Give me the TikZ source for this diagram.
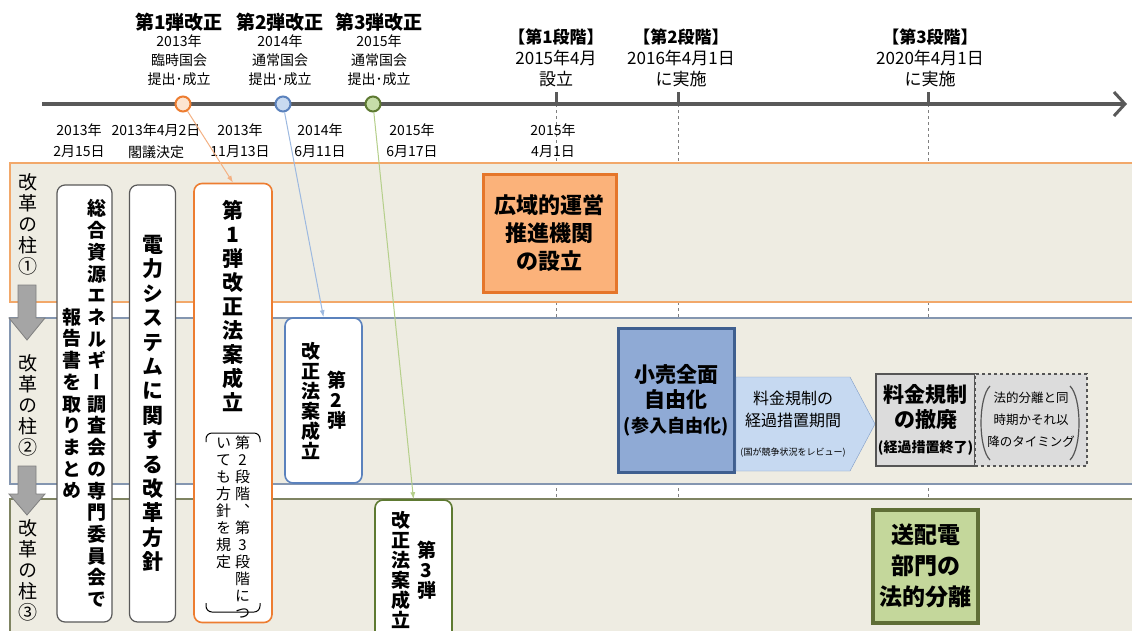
\documentclass[tikz,border=0pt]{standalone}
\usepackage{fontspec}
\setmainfont{Noto Sans CJK JP}
\newfontfamily\tatefont[RawFeature=+vert]{Noto Sans CJK JP}
\usetikzlibrary{arrows.meta}

\definecolor{bandfill}{HTML}{EEECE2}
\definecolor{bandone}{HTML}{F2A86A}
\definecolor{bandtwo}{HTML}{8496B0}
\definecolor{bandthree}{HTML}{7F8462}
\definecolor{axisgray}{HTML}{595959}
\definecolor{arrowgray}{HTML}{A5A5A5}
\definecolor{pillarline}{HTML}{595959}
\definecolor{firstline}{HTML}{ED7D31}
\definecolor{firstfill}{HTML}{FCE4D0}
\definecolor{firstlight}{HTML}{F4B183}
\definecolor{secondline}{HTML}{5B82BD}
\definecolor{secondfill}{HTML}{C9DAF0}
\definecolor{secondlight}{HTML}{9DB9E0}
\definecolor{thirdline}{HTML}{5E7A32}
\definecolor{thirdfill}{HTML}{C6DDA8}
\definecolor{thirdlight}{HTML}{B5CF8A}
\definecolor{organfill}{HTML}{FBB27A}
\definecolor{organline}{HTML}{E5762A}
\definecolor{retailfill}{HTML}{8FAAD5}
\definecolor{retailline}{HTML}{3F5F8F}
\definecolor{chevfill}{HTML}{C6D9F1}
\definecolor{chevline}{HTML}{7F9CC8}
\definecolor{boxfill}{HTML}{DCDCDC}
\definecolor{boxedge}{HTML}{555555}
\definecolor{gridfill}{HTML}{C4D79B}
\definecolor{gridline}{HTML}{5F6E36}

\newcommand\tatec[2]{$\vcenter{\baselineskip=#1\lineskiplimit=-30pt\lineskip=0pt\tateloop#2\relax}$}
\newcommand\tatet[2]{\vtop{\baselineskip=#1\lineskiplimit=-30pt\lineskip=0pt\tateloop#2\relax}}
\def\tateloop#1{\ifx\relax#1\else\hbox to 1em{\hss#1\hss}\expandafter\tateloop\fi}

\begin{document}
\begin{tikzpicture}[x=1pt,y=-1pt,node distance=19pt]
\tikzstyle{hd}=[font=\fontsize{19}{19}\selectfont\bfseries,inner sep=0]
\tikzstyle{sm}=[font=\fontsize{14}{14}\selectfont,inner sep=0]
\tikzstyle{stage}=[font=\fontsize{17}{17}\selectfont\bfseries,inner sep=0]
\tikzstyle{stagesm}=[font=\fontsize{17}{17}\selectfont,inner sep=0,node distance=21pt]
\tikzstyle{band}=[fill=bandfill,line width=1.2]
\tikzstyle{dot}=[draw,circle,line width=2,minimum size=15,inner sep=0]
\tikzstyle{pillar}=[draw=pillarline,fill=white,rounded corners=8,line width=1.2,inner sep=0,font=\fontsize{19}{19}\tatefont\bfseries]
\tikzstyle{tag}=[align=center,inner sep=0,font=\bfseries]
\tikzstyle{link}=[line width=1,-{Latex[length=7pt,width=5pt]}]
\tikzstyle{down}=[fill=arrowgray,draw=gray,line width=0.8]

\useasboundingbox (0,0) rectangle (1132,630);
\clip (0,0) rectangle (1132,630);
\fill[white] (0,0) rectangle (1132,630);

\foreach \x in {556,678,928}
  \draw[dashed,gray] (\x,104) -- (\x,630);

\draw[band,draw=bandone] (10,163) rectangle (1145,302);
\draw[band,draw=bandtwo] (10,318) rectangle (1145,484);
\draw[band,draw=bandthree] (10,499) rectangle (1145,645);

\draw[down] (18,285) -- (36,285) -- (36,318) -- (45,318) -- (27,340) -- (9,318) -- (18,318) -- cycle;
\draw[down] (18,466) -- (36,466) -- (36,494) -- (45,494) -- (27,515) -- (9,494) -- (18,494) -- cycle;

\node[inner sep=0,font=\fontsize{19}{19}\tatefont] (p1) at (28,224) {\tatec{21pt}{改革の柱①}};
\node[inner sep=0,font=\fontsize{19}{19}\tatefont] (p2) at (28,405) {\tatec{21pt}{改革の柱②}};
\node[inner sep=0,font=\fontsize{19}{19}\tatefont] (p3) at (28,570) {\tatec{21pt}{改革の柱③}};

\coordinate (ts) at (42,104);
\coordinate (te) at (1127,104);
\draw[axisgray,line width=4,-{Straight Barb[length=11pt,width=24pt,line width=3pt]}] (ts) -- (te);
\foreach \x in {556,678,928}
  \fill[axisgray] ({\x-1.5},92) rectangle ({\x+1.5},104);

\node[dot,draw=firstline,fill=firstfill] (c1) at (183,104) {};
\node[dot,draw=secondline,fill=secondfill] (c2) at (283,104) {};
\node[dot,draw=thirdline,fill=thirdfill] (c3) at (373,104) {};

\node[hd] (g1) at (179,22) {第1弾改正};
\node[sm,below of=g1] (g1a) {2013年};
\node[sm,below of=g1a] (g1b) {臨時国会};
\node[sm,below of=g1b] (g1c) {提出･成立};
\node[hd] (g2) at (280,22) {第2弾改正};
\node[sm,below of=g2] (g2a) {2014年};
\node[sm,below of=g2a] (g2b) {通常国会};
\node[sm,below of=g2b] (g2c) {提出･成立};
\node[hd] (g3) at (379,22) {第3弾改正};
\node[sm,below of=g3] (g3a) {2015年};
\node[sm,below of=g3a] (g3b) {通常国会};
\node[sm,below of=g3b] (g3c) {提出･成立};

\node[stage] (s1) at (556,37) {【第1段階】};
\node[stagesm,below of=s1] (s1a) {2015年4月};
\node[stagesm,below of=s1a] (s1b) {設立};
\node[stage] (s2) at (681,37) {【第2段階】};
\node[stagesm,below of=s2] (s2a) {2016年4月1日};
\node[stagesm,below of=s2a] (s2b) {に実施};
\node[stage] (s3) at (930,37) {【第3段階】};
\node[stagesm,below of=s3] (s3a) {2020年4月1日};
\node[stagesm,below of=s3a] (s3b) {に実施};

\node[sm] (d1) at (79,130) {2013年};
\node[sm,node distance=22pt,below of=d1] (d1a) {2月15日};
\node[sm] (d2) at (156,130) {2013年4月2日};
\node[sm,node distance=22pt,below of=d2] (d2a) {閣議決定};
\node[sm] (d3) at (240,130) {2013年};
\node[sm,node distance=22pt,below of=d3] (d3a) {11月13日};
\node[sm] (d4) at (320,130) {2014年};
\node[sm,node distance=22pt,below of=d4] (d4a) {6月11日};
\node[sm] (d5) at (412,130) {2015年};
\node[sm,node distance=22pt,below of=d5] (d5a) {6月17日};
\node[sm] (d6) at (553,130) {2015年};
\node[sm,node distance=22pt,below of=d6] (d6a) {4月1日};

\node[pillar,minimum width=55,minimum height=437] (A) at (84.5,403.5)
  {\tatec{21.7pt}{報告書を取りまとめ}\hspace{6pt}\tatec{21.7pt}{総合資源エネルギー調査会の専門委員会で}};
\node[pillar,minimum width=46,minimum height=437,font=\fontsize{21}{21}\tatefont\bfseries] (B) at (152.5,403.5)
  {\tatec{24.4pt}{電力システムに関する改革方針}};
\node[pillar,draw=firstline,line width=1.6,minimum width=78,minimum height=439] (C) at (233,403) {};
\node[inner sep=0,font=\fontsize{21}{21}\tatefont\bfseries] (C1) at (233,306) {\tatec{24pt}{第1弾改正法案成立}};
\node[inner sep=0,font=\fontsize{15}{15}\tatefont] (C2) at (233,527)
  {\tatet{17pt}{いても方針を規定}\hspace{4pt}\tatet{17pt}{第2段階、第3段階につ}};
\draw[line width=1,rounded corners=6] (206,442) -- (206,433) -- (260,433) -- (260,442);
\draw[line width=1,rounded corners=6] (206,603) -- (206,612) -- (260,612) -- (260,603);

\node[pillar,draw=secondline,line width=1.6,minimum width=77,minimum height=165] (D) at (323.5,400.5)
  {\tatec{20pt}{改正法案成立}\hspace{7pt}\tatec{20pt}{第2弾}};
\node[pillar,draw=thirdline,line width=1.6,minimum width=77,minimum height=140] (E) at (413.5,570)
  {\tatec{20pt}{改正法案成立}\hspace{7pt}\tatec{20pt}{第3弾}};

\node[tag,draw=organline,fill=organfill,line width=3,minimum width=133,minimum height=118,font=\fontsize{22}{28}\selectfont\bfseries] (K) at (549.5,233)
  {広域的運営\\推進機関\\の設立};
\node[tag,draw=retailline,fill=retailfill,line width=3,minimum width=116,minimum height=144,font=\fontsize{21}{25}\selectfont\bfseries] (Q) at (676,400)
  {小売全面\\自由化\\{\fontsize{18}{18}\selectfont(参入自由化)}};

\draw[fill=chevfill,draw=chevline] (736,377) -- (850,377) -- (875,424) -- (850,471) -- (736,471) -- cycle;
\node[align=center,inner sep=0,font=\fontsize{16}{22}\selectfont] (P) at (793,409) {料金規制の\\経過措置期間};
\node[inner sep=0,font=\fontsize{9}{9}\selectfont] (P1) at (793,453) {(国が競争状況をレビュー)};

\node[tag,draw=boxedge,fill=boxfill,line width=2,minimum width=99,minimum height=92,font=\fontsize{21}{25}\selectfont\bfseries] (R) at (925.5,420)
  {料金規制\\の撤廃\\{\fontsize{14}{14}\selectfont(経過措置終了)}};
\node[align=center,inner sep=0,draw=boxedge,dashed,fill=boxfill,line width=2,minimum width=112,minimum height=92,font=\fontsize{12.5}{22}\selectfont] (S) at (1031,420)
  {法的分離と同\\時期かそれ以\\降のタイミング};
\draw[boxedge,line width=1.2] (990,386) .. controls (978,398) and (978,448) .. (990,460);
\draw[boxedge,line width=1.2] (1070,386) .. controls (1082,398) and (1082,448) .. (1070,460);

\node[tag,draw=gridline,fill=gridfill,line width=4,minimum width=105,minimum height=113,font=\fontsize{23}{31}\selectfont\bfseries] (T) at (925.5,566)
  {送配電\\部門の\\法的分離};

\path[link]
 (c1) edge[firstlight] (C.north)
 (c2) edge[secondlight] (D.north)
 (c3) edge[thirdlight] (E.north);
\end{tikzpicture}
\end{document}
